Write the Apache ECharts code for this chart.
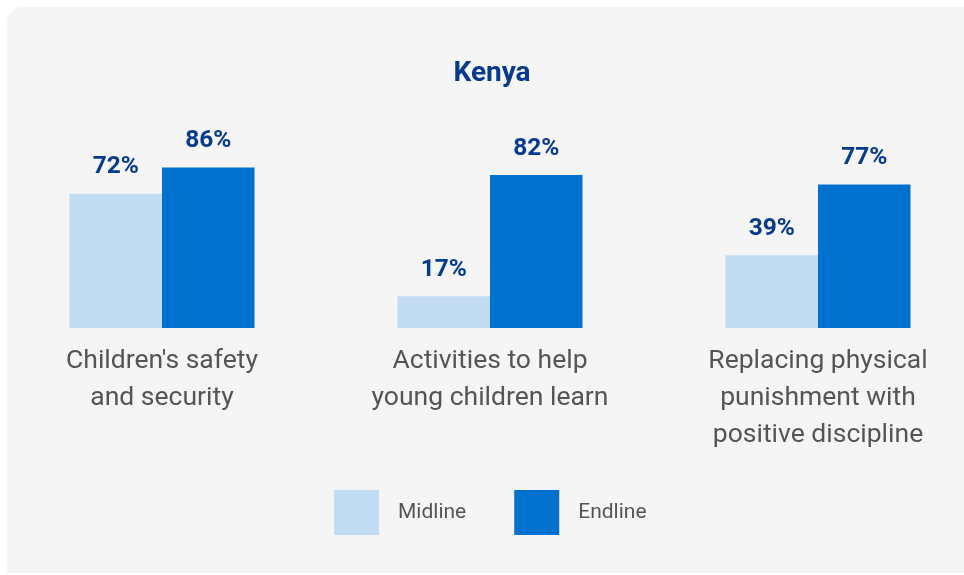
<!DOCTYPE html>
<html>
<head>
<meta charset="utf-8">
<script src="https://cdn.jsdelivr.net/npm/echarts@6/dist/echarts.min.js"></script>
<style>
html,body{margin:0;padding:0;background:#ffffff;}
#chart{width:964px;height:575px;}
</style>
</head>
<body>
<div id="chart"></div>
<script>
const categories = ["Children's safety\nand security", "Activities to help\nyoung children learn", "Replacing physical\npunishment with\npositive discipline"];
const midline = [72, 17, 39];
const endline = [86, 82, 77];
const seriesNames = ["Midline", "Endline"];

const chart = echarts.init(document.getElementById('chart'), null, {renderer: 'canvas'});
const labelStyle = {
  show: true,
  position: 'top',
  distance: 14,
  formatter: p => p.value + '%',
  fontFamily: '"Liberation Sans Narrow", "Roboto", sans-serif',
  fontWeight: 'bold',
  fontSize: 24.5,
  color: '#063a8c'
};
chart.setOption({
  backgroundColor: 'transparent',
  animation: false,
  graphic: [{
    type: 'rect',
    z: -10,
    silent: true,
    shape: {x: 7, y: 7, width: 980, height: 566, r: [16, 0, 0, 0]},
    style: {fill: '#f5f5f5'}
  }],
  title: {
    text: 'Kenya',
    left: 487,
    top: 55,
    textAlign: 'center',
    textStyle: {
      fontFamily: '"Liberation Sans Narrow", "Roboto", sans-serif',
      fontWeight: 'bold',
      fontSize: 28,
      color: '#063a8c'
    }
  },
  legend: {
    left: 329,
    top: 485,
    itemWidth: 45,
    itemHeight: 45,
    itemGap: 48,
    icon: 'rect',
    data: seriesNames,
    textStyle: {
      fontFamily: 'Roboto, sans-serif',
      fontSize: 21,
      color: '#555555',
      padding: [0, 0, 0, 14]
    }
  },
  grid: {left: -2, width: 984, top: 141.5, height: 186.5, outerBoundsMode: 'none', containLabel: false},
  xAxis: {
    type: 'category',
    data: categories,
    axisLine: {show: false},
    axisTick: {show: false},
    axisLabel: {
      margin: 15,
      interval: 0,
      fontFamily: 'Roboto, sans-serif',
      fontSize: 26.5,
      lineHeight: 37,
      color: '#555555',
      align: 'center'
    }
  },
  yAxis: {
    type: 'value',
    min: 0,
    max: 100,
    show: false,
    splitLine: {show: false}
  },
  series: [
    {
      name: seriesNames[0],
      type: 'bar',
      data: midline,
      barWidth: 92.5,
      barGap: '0%',
      itemStyle: {color: '#c2ddf3'},
      label: labelStyle
    },
    {
      name: seriesNames[1],
      type: 'bar',
      data: endline,
      barWidth: 92.5,
      barGap: '0%',
      itemStyle: {color: '#0071ce'},
      label: labelStyle
    }
  ]
});
</script>
</body>
</html>
